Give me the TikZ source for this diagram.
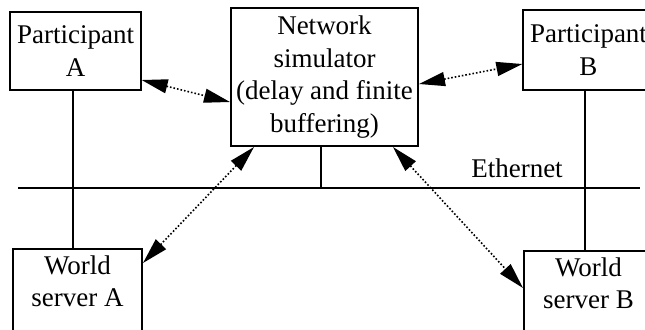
\documentclass[tikz,border=0pt]{standalone}
\usepackage{fontspec}
\setmainfont{Liberation Serif}
\usepackage{tikz}
\usetikzlibrary{arrows.meta}
\usetikzlibrary{calc}

\begin{document}
\begin{tikzpicture}[x=0.5pt,y=-0.5pt,
    font=\fontsize{13.5}{16.2}\selectfont,
    box/.style={rectangle, draw, line width=1pt, align=center, minimum width=64.5pt},
    link/.style={densely dotted, line width=0.8pt, {Triangle[length=13pt,width=7pt]}-{Triangle[length=13pt,width=7pt]}}]
  \clip (0,0) rectangle (645,329);
  % boxes
  \node [box, minimum height=39pt] (pa) at (75.5,51) {Participant\\A};
  \node [box, minimum width=93.5pt, minimum height=69pt, inner sep=1pt] (sim) at (324.5,77)
    {Network\\simulator\\(delay and finite\\buffering)};
  \node [box, minimum height=40pt] (pb) at (588.5,50) {Participant\\B};
  \node [box, anchor=north, text depth=14pt] (wa) at (77.5,248) {World\\server A};
  \node [box, anchor=north, text depth=14pt] (wb) at (588.5,250) {World\\server B};
  % ethernet
  \coordinate (el) at (18,188);
  \coordinate (er) at (640,188);
  \draw [line width=0.8pt] (el) -- (er);
  \node (eth) at (517,168) {Ethernet};
  \draw [line width=1pt] ($(pa.south)+(-2.5,0)$) -- ($(pa.south |- wa.north)+(-2.5,0)$);
  \draw [line width=1pt] ($(pb.south)+(-3.5,0)$) -- ($(pb.south |- wb.north)+(-3.5,0)$);
  \draw [line width=0.6pt] ($(sim.south)+(-3.5,0)$) -- ($(sim.south |- el)+(-3.5,0)$);
  % links through the simulator
  \draw [link] ($(pa.south east)+(0,-11)$) -- ($(sim.north west)+(0,95)$);
  \draw [link] ($(sim.north east)+(0,77)$) -- ($(pb.north west)+(0,55)$);
  \draw [link] ($(sim.south west)+(24,0)$) -- ($(wa.north east)+(0,15)$);
  \draw [link] ($(sim.south east)+(-26,0)$) -- ($(wb.north west)+(0,38)$);
\end{tikzpicture}
\end{document}
